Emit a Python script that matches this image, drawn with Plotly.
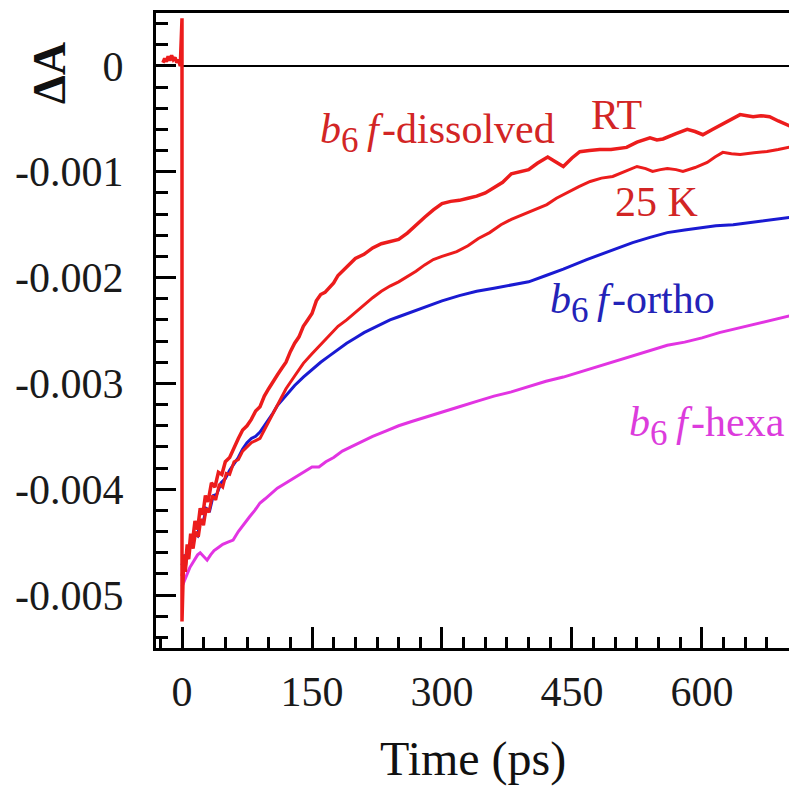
import numpy as np
import plotly.graph_objects as go

# ---------------- data (ΔA in units of 1e-3) ----------------
rt_t = [-22, -20, -18, -16, -14, -12, -10, -8, -6, -4, -2, 0, 0, 2, 4, 6, 8, 10, 12, 15, 18, 21, 24, 27, 30,
        34, 38, 42, 46, 50, 55, 60, 65, 70, 75, 80, 85, 90, 95, 100, 105, 110, 115, 120, 125, 130, 135,
        140, 145, 150, 155, 160, 165, 170, 175, 180, 190, 200, 210, 220, 230, 240, 250, 260, 270, 280,
        290, 300, 310, 320, 330, 340, 350, 360, 370, 380, 390, 400, 410, 422, 430, 440, 450, 459, 470,
        482, 495, 513, 525, 540, 548, 555, 570, 583, 592, 601, 612, 624, 634, 644, 652, 659, 668, 678,
        688, 698, 702]
rt_v = [0.03, 0.07, 0.04, 0.09, 0.05, 0.10, 0.06, 0.08, 0.03, 0.06, 0.0, 0.45, -5.25, -4.62, -4.72, -4.52,
        -4.60, -4.42, -4.50, -4.30, -4.38, -4.18, -4.24, -4.06, -4.12, -3.94, -3.98, -3.84, -3.86, -3.74,
        -3.70, -3.60, -3.52, -3.44, -3.40, -3.34, -3.26, -3.22, -3.12, -3.05, -2.98, -2.92, -2.86, -2.80,
        -2.70, -2.62, -2.56, -2.46, -2.40, -2.34, -2.22, -2.16, -2.14, -2.10, -2.05, -1.98, -1.90, -1.82,
        -1.78, -1.72, -1.68, -1.66, -1.64, -1.58, -1.50, -1.43, -1.36, -1.30, -1.28, -1.27, -1.25, -1.23,
        -1.20, -1.15, -1.10, -1.02, -1.00, -0.98, -0.92, -0.86, -0.90, -0.95, -0.87, -0.81, -0.80, -0.79,
        -0.79, -0.77, -0.72, -0.68, -0.70, -0.69, -0.64, -0.60, -0.62, -0.65, -0.60, -0.55, -0.50, -0.46,
        -0.47, -0.48, -0.47, -0.48, -0.52, -0.55, -0.57]

k25_t = [0, 2, 4, 6, 8, 10, 13, 16, 19, 22, 25, 28, 31, 35, 39, 43, 47, 51, 55, 60, 65, 70, 75, 80, 85,
         90, 95, 100, 105, 110, 115, 120, 130, 140, 150, 160, 170, 180, 190, 200, 210, 220, 230, 240,
         250, 260, 270, 280, 290, 300, 317, 330, 342, 355, 368, 380, 398, 410, 421, 432, 444, 458, 471,
         484, 497, 510, 525, 535, 543, 552, 560, 570, 578, 592, 606, 615, 624, 634, 644, 660, 675, 688,
         698, 702]
k25_v = [-4.82, -4.70, -4.78, -4.60, -4.66, -4.50, -4.56, -4.40, -4.45, -4.28, -4.34, -4.18, -4.22, -4.06,
         -4.10, -3.95, -3.98, -3.85, -3.86, -3.74, -3.72, -3.64, -3.60, -3.56, -3.54, -3.52, -3.44, -3.36,
         -3.28, -3.20, -3.12, -3.05, -2.93, -2.81, -2.72, -2.63, -2.54, -2.46, -2.40, -2.33, -2.26, -2.19,
         -2.13, -2.08, -2.04, -1.99, -1.94, -1.88, -1.83, -1.80, -1.755, -1.70, -1.63, -1.575, -1.50, -1.45,
         -1.386, -1.35, -1.31, -1.25, -1.197, -1.14, -1.092, -1.06, -1.045, -1.00, -0.95, -0.97, -0.997,
         -0.98, -0.969, -0.98, -0.997, -0.96, -0.912, -0.86, -0.817, -0.83, -0.836, -0.82, -0.808, -0.79,
         -0.77, -0.765]

ortho_t = [0, 3, 6, 9, 12, 15, 18, 21, 24, 28, 32, 36, 40, 45, 50, 55, 60, 65, 70, 75, 80, 85, 90, 95,
           100, 105, 110, 115, 120, 130, 140, 150, 160, 170, 180, 190, 200, 210, 220, 230, 240, 250, 260,
           270, 280, 290, 300, 320, 340, 360, 380, 400, 420, 440, 467, 490, 520, 540, 560, 580, 598, 616,
           636, 656, 676, 698, 702]
ortho_v = [-4.72, -4.62, -4.66, -4.52, -4.55, -4.42, -4.44, -4.30, -4.33, -4.18, -4.20, -4.06, -4.05, -3.94,
           -3.90, -3.82, -3.76, -3.70, -3.62, -3.56, -3.52, -3.50, -3.46, -3.40, -3.35, -3.28, -3.21, -3.16,
           -3.11, -3.02, -2.94, -2.87, -2.80, -2.74, -2.68, -2.62, -2.57, -2.52, -2.48, -2.44, -2.40, -2.37,
           -2.34, -2.31, -2.28, -2.25, -2.22, -2.17, -2.13, -2.10, -2.07, -2.04, -1.98, -1.92, -1.83, -1.76,
           -1.67, -1.62, -1.575, -1.55, -1.528, -1.51, -1.50, -1.48, -1.46, -1.433, -1.43]

hexa_t = [0, 3, 6, 9, 12, 15, 18, 21, 25, 29, 33, 37, 42, 47, 53, 59, 65, 72, 78, 84, 90, 96, 102, 110,
          118, 126, 134, 142, 150, 158, 166, 175, 185, 195, 205, 220, 235, 250, 265, 280, 300, 320, 340,
          360, 380, 400, 420, 440, 460, 480, 500, 520, 540, 560, 580, 600, 620, 640, 660, 680, 698, 702]
hexa_v = [-4.92, -4.85, -4.80, -4.74, -4.70, -4.65, -4.62, -4.60, -4.64, -4.67, -4.62, -4.58, -4.55, -4.52,
          -4.50, -4.48, -4.40, -4.32, -4.26, -4.20, -4.13, -4.09, -4.05, -3.99, -3.95, -3.91, -3.87, -3.83,
          -3.79, -3.79, -3.74, -3.70, -3.64, -3.60, -3.56, -3.50, -3.45, -3.40, -3.36, -3.32, -3.27, -3.22,
          -3.17, -3.12, -3.08, -3.03, -2.98, -2.94, -2.89, -2.84, -2.79, -2.74, -2.69, -2.64, -2.61, -2.57,
          -2.52, -2.48, -2.44, -2.40, -2.37, -2.36]

zero_t = [0, 702]
zero_v = [0, 0]

x_tick_vals = [0, 150, 300, 450, 600]
x_tick_text = ["0", "150", "300", "450", "600"]
y_tick_vals = [0, -0.001, -0.002, -0.003, -0.004, -0.005]
y_tick_text = ["0", "-0.001", "-0.002", "-0.003", "-0.004", "-0.005"]

SCALE = 1e-3
RED = "#ec1c1c"
BLUE = "#1a1ad2"
MAG = "#e234e2"
FONT = "Liberation Serif"

fig = go.Figure()
fig.add_trace(go.Scatter(x=zero_t, y=zero_v, mode="lines", line=dict(color="black", width=2),
                         hoverinfo="skip"))
fig.add_trace(go.Scatter(x=hexa_t, y=np.array(hexa_v) * SCALE, mode="lines",
                         line=dict(color=MAG, width=3)))
fig.add_trace(go.Scatter(x=ortho_t, y=np.array(ortho_v) * SCALE, mode="lines",
                         line=dict(color=BLUE, width=3)))
fig.add_trace(go.Scatter(x=k25_t, y=np.array(k25_v) * SCALE, mode="lines",
                         line=dict(color=RED, width=3)))
fig.add_trace(go.Scatter(x=rt_t, y=np.array(rt_v) * SCALE, mode="lines",
                         line=dict(color=RED, width=3.5)))

SUB6 = "<sub><span style='font-size:35px'>6</span></sub>"
PREFIX = "<i>b</i>" + SUB6 + "\u2009<i>f</i>\u200a"
ann_font = dict(family=FONT, size=42)
annotations = [
    dict(x=433, y=-0.00063, xanchor="right", text=PREFIX + "-dissolved", font=dict(ann_font, color="#d22525")),
    dict(x=470, y=-0.00046, xanchor="left", text="RT", font=dict(ann_font, color="#d22525")),
    dict(x=497, y=-0.00129, xanchor="left", text="25 K", font=dict(ann_font, color="#d22525")),
    dict(x=617, y=-0.00224, xanchor="right", text=PREFIX + "-ortho", font=dict(ann_font, color="#2323b8")),
    dict(x=698, y=-0.00340, xanchor="right", text=PREFIX + "-hexa", font=dict(ann_font, color="#dc3cdc")),
]
for a in annotations:
    a.update(xref="x", yref="y", yanchor="middle", showarrow=False)

annotations.append(dict(xref="paper", yref="paper", x=-0.168, y=0.905, text="<b>ΔA</b>", textangle=-90,
                        showarrow=False, xanchor="center", yanchor="middle",
                        font=dict(family=FONT, size=46, color="#111")))
annotations.append(dict(xref="paper", yref="paper", x=0.5, y=-0.1748, text="Time (ps)",
                        showarrow=False, xanchor="center", yanchor="middle",
                        font=dict(family=FONT, size=48, color="#111")))

fig.update_layout(
    width=789, height=791,
    margin=dict(l=156, r=0, t=13, b=143),
    paper_bgcolor="white", plot_bgcolor="white",
    showlegend=False,
    annotations=annotations,
    xaxis=dict(
        range=[-30, 700.4], showgrid=False, zeroline=False,
        showline=True, linecolor="black", linewidth=3, mirror=True,
        tickmode="array", tickvals=x_tick_vals, ticktext=x_tick_text,
        ticks="inside", ticklen=21, tickwidth=2.5, tickcolor="black",
        minor=dict(dtick=25, tick0=0, ticks="inside", ticklen=11, tickwidth=2.5, tickcolor="black"),
        tickfont=dict(family=FONT, size=42, color="#1a1a1a"),
        ticklabelstandoff=5,
    ),
    yaxis=dict(
        range=[-0.0055, 0.0005], showgrid=False, zeroline=False,
        showline=True, linecolor="black", linewidth=3, mirror=False,
        tickmode="array", tickvals=y_tick_vals, ticktext=y_tick_text,
        ticks="inside", ticklen=20, tickwidth=2.5, tickcolor="black",
        minor=dict(dtick=0.0002, tick0=0, ticks="inside", ticklen=12, tickwidth=2.5, tickcolor="black"),
        tickfont=dict(family=FONT, size=42, color="#1a1a1a"),
        ticklabelstandoff=21,
    ),
)

fig.write_html("out.html", config={"displayModeBar": False},
               post_script="document.body.style.margin='0';document.body.style.overflow='hidden';")
